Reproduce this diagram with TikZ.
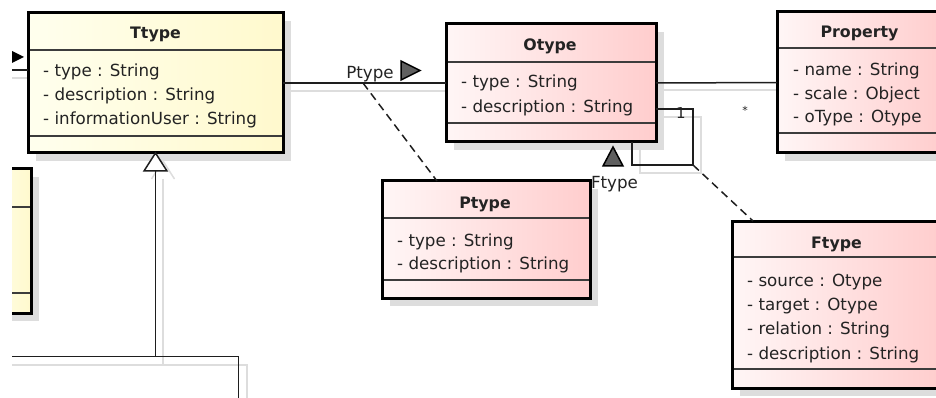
\documentclass[tikz,border=0pt]{standalone}
\usepackage{fontspec}
\setmainfont{DejaVu Sans}
\usetikzlibrary{calc}
\definecolor{shd}{RGB}{221,221,221}
\definecolor{yelL}{RGB}{255,255,238}
\definecolor{yelR}{RGB}{255,249,205}
\definecolor{pnkL}{RGB}{255,246,246}
\definecolor{pnkR}{RGB}{255,205,205}
\definecolor{sepc}{RGB}{60,60,60}
\definecolor{txt}{RGB}{35,35,35}
\definecolor{lnc}{RGB}{30,30,30}
\definecolor{trig}{RGB}{95,95,95}
\newcommand\umlbox[8]{%
  \fill[shd] ({#2+8},{#3+8}) rectangle ({#4+8},{#5+8});
  \node[cls,#6,minimum width={#4-#2},minimum height={#5-#3}] (#1) at (#2,#3) {};
  \draw[sepline] ({#2+1.5},#7) -- ({#4-1.5},#7);
  \draw[sepline] ({#2+1.5},#8) -- ({#4-1.5},#8);
}
\begin{document}
\begin{tikzpicture}[x=1pt,y=-1pt,
  cls/.style={draw=black, line width=3pt, inner sep=0pt, outer sep=0pt, anchor=north west},
  yel/.style={left color=yelL, right color=yelR},
  pnk/.style={left color=pnkL, right color=pnkR},
  sepline/.style={line width=1.6pt, draw=sepc},
  attr/.style={anchor=base west, inner sep=0pt, text=txt, font=\fontsize{16.7}{20}\selectfont},
  ttl/.style={anchor=base, inner sep=0pt, text=txt, font=\fontsize{15.8}{20}\selectfont\bfseries},
  lbl/.style={anchor=base, inner sep=0pt, text=txt, font=\fontsize{16.7}{20}\selectfont},
  conn/.style={line width=1.5pt, draw=lnc},
  shline/.style={line width=1.5pt, draw=shd},
  dashconn/.style={conn, dash pattern=on 8pt off 5pt},
  dirtri/.style={draw=black, line width=1.5pt, fill=trig, line join=miter}]
\useasboundingbox (0,0) rectangle (936,398);
\clip (12,0) rectangle (936,398);
% shadows of connectors
\draw[shline] (12,78) -- (36,78);
\draw[shline] (290,91) -- (453,91);
\draw[shline] (663,90) -- (785,90);
\draw[shline] (663,117) -- (701,117) -- (701,173) -- (640,173) -- (640,150);
\draw[shline] (163,179) -- (163,365);
\draw[shline] (12,365) -- (247,365) -- (247,398);
\draw[shline] (151.5,179) -- (163,161) -- (174.5,179);
% boxes
\umlbox{leftbox}{-20}{169}{31}{313}{yel}{207}{293}
\umlbox{ttype}{28}{13}{283}{153}{yel}{50}{136}
\umlbox{otype}{446}{24}{656}{142}{pnk}{62}{123}
\umlbox{property}{777}{12}{942}{153}{pnk}{48}{133}
\umlbox{ptype}{382}{181}{590}{298}{pnk}{218}{280}
\umlbox{ftype}{732}{221}{941}{388}{pnk}{257}{369}
% texts
\node[ttl] (ttypeT) at (155.5,38.5) {Ttype};
\node[attr] (ttypeA1) at (43,77) {- type : String};
\node[attr] (ttypeA2) at (43,101) {- description : String};
\node[attr] (ttypeA3) at (43,125) {- informationUser : String};
\node[ttl] (otypeT) at (550,51) {Otype};
\node[attr] (otypeA1) at (461,88) {- type : String};
\node[attr] (otypeA2) at (461,113) {- description : String};
\node[ttl] (propT) at (859.5,38) {Property};
\node[attr] (propA1) at (793,76) {- name : String};
\node[attr] (propA2) at (793,100) {- scale : Object};
\node[attr] (propA3) at (793,123) {- oType : Otype};
\node[ttl] (ptypeT) at (485,208) {Ptype};
\node[attr] (ptypeA1) at (397,246) {- type : String};
\node[attr] (ptypeA2) at (397,269) {- description : String};
\node[ttl] (ftypeT) at (836.5,248) {Ftype};
\node[attr] (ftypeA1) at (747,286) {- source : Otype};
\node[attr] (ftypeA2) at (747,310) {- target : Otype};
\node[attr] (ftypeA3) at (747,334) {- relation : String};
\node[attr] (ftypeA4) at (747,359) {- description : String};
% coordinates
\coordinate (lin) at (12,70);
\coordinate (tw) at ($(ttype.north west)+(0,57)$);
\coordinate (pA) at (363,83);
\coordinate (ptop) at ($(ptype.north west)+(55,0)$);
\coordinate (l0) at ($(otype.north east)+(0,85)$);
\coordinate (l1) at (693,109);
\coordinate (l2) at (693,165);
\coordinate (l3) at (632,165);
\coordinate (l4) at ($(otype.south east)+(-24,0)$);
\coordinate (ftop) at ($(ftype.north west)+(21,0)$);
\coordinate (gbase) at ($(ttype.south)+(0,18)$);
\coordinate (gj) at ($(ttype.south)+(0,203.7)$);
\coordinate (g0) at (12,356.7);
\coordinate (g2) at (238.3,356.7);
\coordinate (g3) at (238.3,398);
% connectors
\draw[conn] (lin) -- (tw);
\fill[black] (5,47.5) -- (24,57) -- (5,66.5) -- cycle;
\draw[conn] (ttype.east) -- (otype.west);
\draw[dashconn] (pA) -- (ptop);
\node[lbl] (ptypeL) at (370,78.5) {Ptype};
\draw[dirtri] (401,61) -- (420,70.5) -- (401,80) -- cycle;
\draw[conn] (otype.east) -- (property.west);
\node[inner sep=0pt, text=txt, font=\fontsize{11}{12}\selectfont] (star) at (745,110) {*};
\draw[conn] (l0) -- (l1) -- (l2) -- (l3) -- (l4);
\node[inner sep=0pt, text=txt, font=\fontsize{15}{16}\selectfont] (one) at (681,113) {1};
\draw[dirtri] (603,166) -- (613,147) -- (623,166) -- cycle;
\node[lbl] (ftypeL) at (614.5,188.5) {Ftype};
\draw[dashconn] (l2) -- (ftop);
\draw[conn] (gbase) -- (gj);
\draw[conn] (g0) -- (g2) -- (g3);
\draw[conn, fill=white, line join=miter] (ttype.south) -- (gbase -| 167,0) -- (gbase -| 144,0) -- cycle;
\end{tikzpicture}
\end{document}
